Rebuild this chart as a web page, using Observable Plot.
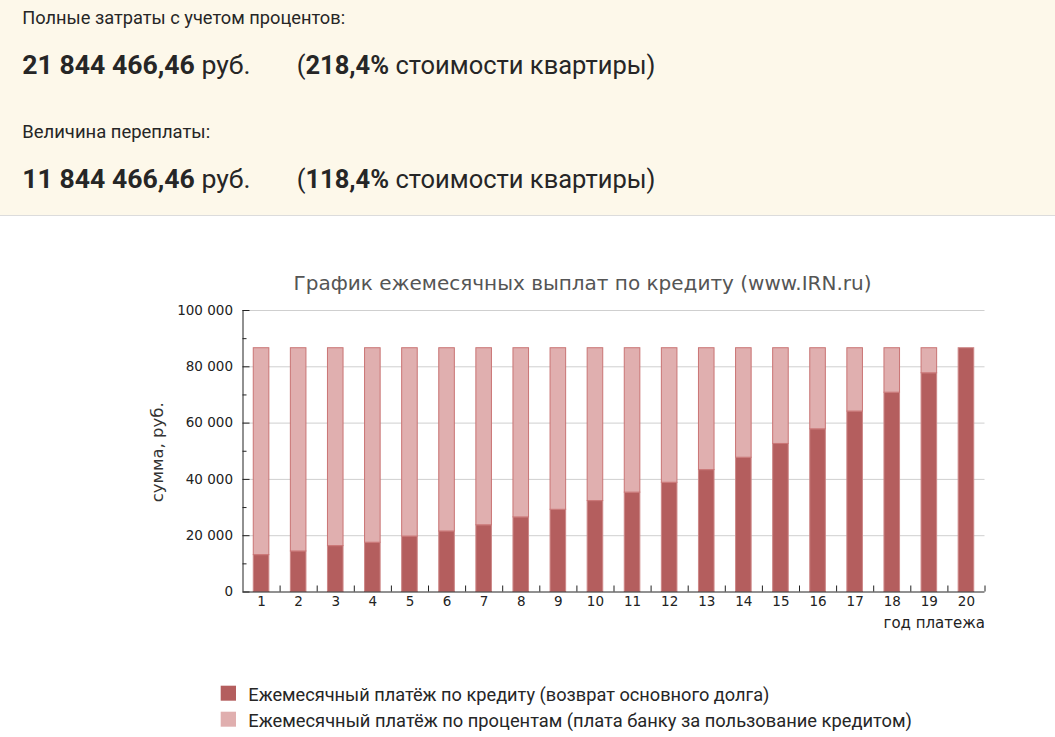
<!DOCTYPE html>
<html><head><meta charset="utf-8">
<script src="https://cdn.jsdelivr.net/npm/d3@7"></script>
<script src="https://cdn.jsdelivr.net/npm/@observablehq/plot@0.6"></script>
<style>
body{margin:0;background:#fff;width:1055px;height:737px;overflow:hidden;position:relative;}
#overlay{position:absolute;left:0;top:0;}
#chart{position:absolute;left:0;top:250px;}
</style></head><body>
<svg id="overlay" width="1055" height="737"></svg>
<div id="chart"></div>
<script>
// ---- data ----
const years = [1,2,3,4,5,6,7,8,9,10,11,12,13,14,15,16,17,18,19,20];
const principal = [13100,14400,16300,17500,19700,21500,23700,26500,29200,32300,35300,38800,43300,47700,52600,57800,64100,70800,77700,86600];
const interest  = [73500,72200,70300,69100,66900,65100,62900,60100,57400,54300,51300,47800,43300,38900,34000,28800,22500,15800,8900,0];
const seriesNames = ["Ежемесячный платёж по кредиту (возврат основного долга)", "Ежемесячный платёж по процентам (плата банку за пользование кредитом)"];
const yTicks = [0,20000,40000,60000,80000,100000];
const yMinor = [10000,30000,50000,70000,90000];
const xBoundaries = [1.5,2.5,3.5,4.5,5.5,6.5,7.5,8.5,9.5,10.5,11.5,12.5,13.5,14.5,15.5,16.5,17.5,18.5,19.5,20.5];
const chartTitle = "График ежемесячных выплат по кредиту (www.IRN.ru)";
const yLabel = "сумма, руб.";
const xLabel = "год платежа";
const headTotalLabel = "Полные затраты с учетом процентов:";
const headTotalValue = "21 844 466,46";
const headTotalPct = "218,4%";
const headOverLabel = "Величина переплаты:";
const headOverValue = "11 844 466,46";
const headOverPct = "118,4%";
const unit = " руб.";
const pctSuffix = " стоимости квартиры)";

const fills = {p: "#b45e5e", i: "#e0afaf"};
const strokes = {p: "#cd8787", i: "#c97474"};

const data = [
  ...years.map((y, k) => ({year: y, s: "p", value: principal[k]})),
  ...years.map((y, k) => ({year: y, s: "i", value: interest[k]}))
];

const fmt = d3.formatLocale({decimal: ",", thousands: " ", grouping: [3], currency: ["", ""]}).format(",d");

// ---- chart ----
const W = 1055, H = 410, mL = 242.5, mR = 70.5, mT = 60, mB = 68.5;
const fw = W - mL - mR, fh = H - mT - mB;
const chart = Plot.plot({
  width: W, height: H,
  marginLeft: mL, marginRight: mR, marginTop: mT, marginBottom: mB,
  x: {type: "linear", domain: [0.5, 20.5]},
  y: {domain: [0, 100000]},
  style: {fontFamily: "DejaVu Sans", fontSize: "13.5px", color: "#222", background: "transparent", overflow: "visible"},
  marks: [
    Plot.ruleY(yTicks.slice(1), {stroke: "#cfcfcf", strokeWidth: 1}),
    Plot.rectY(data, Plot.stackY({
      x1: d => d.year - 0.21, x2: d => d.year + 0.21, y: "value",
      fill: d => fills[d.s], stroke: d => strokes[d.s], strokeWidth: 1
    })),
    Plot.ruleY(yTicks, {insetRight: fw - 7, stroke: "#222"}),
    Plot.ruleY(yMinor, {insetRight: fw - 4, stroke: "#222"}),
    Plot.ruleX([0.5], {stroke: "#222"}),
    Plot.ruleY([0], {stroke: "#222"}),
    Plot.ruleX(xBoundaries, {insetTop: fh - 6, stroke: "#222"}),
    Plot.axisX({ticks: years, tickSize: 0, tickPadding: 4, tickFormat: d => String(d), label: null, fill: "#222"}),
    Plot.axisY({ticks: yTicks, tickSize: 0, tickPadding: 10, tickFormat: fmt, label: null, fill: "#222"}),
    Plot.text([xLabel], {frameAnchor: "bottom-right", textAnchor: "end", lineAnchor: "middle", dy: 31, fontSize: 15, fill: "#222"}),
    Plot.text([yLabel], {frameAnchor: "left", textAnchor: "middle", lineAnchor: "middle", rotate: -90, dx: -85.5, dy: 1, fontSize: 16.5, fill: "#333"}),
    Plot.text([chartTitle], {frameAnchor: "top", textAnchor: "middle", lineAnchor: "middle", dx: -31.5, dy: -27, fontSize: 20, fill: "#555"})
  ]
});
document.getElementById("chart").appendChild(chart);

// ---- header and legend (page text) ----
const svg = d3.select("#overlay");
svg.append("rect").attr("x", 0).attr("y", 0).attr("width", 1055).attr("height", 215).attr("fill", "#fdf8ea");
svg.append("line").attr("x1", 0).attr("x2", 1055).attr("y1", 215.5).attr("y2", 215.5).attr("stroke", "#dcdcdc");

function row(x, baseline, parts, targetW, size) {
  const t = svg.append("text").attr("x", x).attr("y", baseline)
    .attr("font-family", "Roboto").attr("font-size", size).attr("fill", "#262626");
  parts.forEach(([s, b]) => t.append("tspan").attr("font-weight", b ? 700 : 400).text(s));
  const w = t.node().getComputedTextLength();
  if (w > 0) t.attr("font-size", size * targetW / w);
  return t;
}
row(22.3, 24, [[headTotalLabel, false]], 323, 18);
row(22.3, 74, [[headTotalValue, true], [unit, false]], 228.4, 25);
row(296.7, 74, [["(", false], [headTotalPct, true], [pctSuffix, false]], 359, 25);
row(22.3, 137.5, [[headOverLabel, false]], 188, 18);
row(22.3, 187.5, [[headOverValue, true], [unit, false]], 228.4, 25);
row(296.7, 187.5, [["(", false], [headOverPct, true], [pctSuffix, false]], 359, 25);

// legend
const legendRows = [
  {name: seriesNames[0], fill: fills.p, y: 685.7, base: 700.7, w: 521.7},
  {name: seriesNames[1], fill: fills.i, y: 711.7, base: 726.7, w: 663.7}
];
legendRows.forEach(r => {
  svg.append("rect").attr("x", 220.7).attr("y", r.y).attr("width", 15.3).attr("height", 15).attr("fill", r.fill);
  row(248.3, r.base, [[r.name, false]], r.w, 18);
});
</script>
</body></html>
